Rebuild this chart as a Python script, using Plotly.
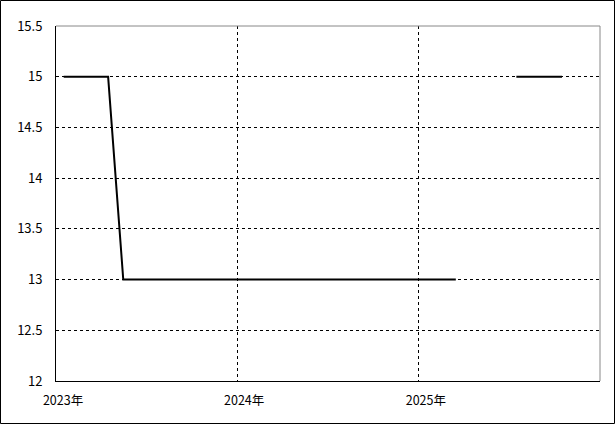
import plotly.graph_objects as go
import pandas as pd

months = pd.date_range("2023-01-01", "2025-12-01", freq="MS").strftime("%Y-%m-%d").tolist()
values = [15, 15, 15, 15] + [13] * 23 + [None, None, None] + [15, 15, 15, 15] + [None, None]
y_ticks = [12, 12.5, 13, 13.5, 14, 14.5, 15, 15.5]
y_tick_text = ["12", "12.5", "13", "13.5", "14", "14.5", "15", "15.5"]

fig = go.Figure()
fig.add_trace(go.Scatter(
    x=months, y=values, mode="lines",
    xperiod="M1", xperiodalignment="middle",
    line=dict(color="black", width=2),
    connectgaps=False, showlegend=False, hoverinfo="skip",
))

font = dict(family="Noto Sans CJK JP, sans-serif", size=12.5, color="black")

fig.update_layout(
    width=615, height=424,
    margin=dict(l=56, r=15, t=26, b=43),
    paper_bgcolor="white", plot_bgcolor="white",
    font=font,
    xaxis=dict(
        type="date", range=["2023-01-01", "2026-01-01"],
        tick0="2023-01-01", dtick="M12", tickformat="%Y年",
        showgrid=True, gridcolor="black", gridwidth=1, griddash="3px,3px",
        showline=True, linecolor="black", linewidth=1,
        ticks="", ticklabelstandoff=8, ticklabelshift=7, zeroline=False,
        tickfont=font,
    ),
    yaxis=dict(
        range=[12, 15.5], tickvals=y_ticks, ticktext=y_tick_text,
        showgrid=True, gridcolor="black", gridwidth=1, griddash="3px,3px",
        showline=True, linecolor="black", linewidth=1,
        ticks="", ticklabelstandoff=10, zeroline=False,
        tickfont=dict(family="Noto Sans CJK JP, sans-serif", size=13, color="black"),
    ),
    shapes=[
        dict(type="line", xref="paper", yref="paper", x0=0, x1=1, y0=1, y1=1,
             line=dict(color="#888888", width=1)),
        dict(type="line", xref="paper", yref="paper", x0=1, x1=1, y0=0, y1=1,
             line=dict(color="#888888", width=1)),
        dict(type="rect", xref="paper", yref="paper",
             x0=(0.5 - 56) / 544, x1=(614.5 - 56) / 544,
             y0=(381 - 423.5) / 355, y1=(381 - 0.5) / 355,
             line=dict(color="black", width=1)),
    ],
)

fig.write_html(
    "out.html",
    config={"displayModeBar": False, "staticPlot": True},
    post_script="document.body.style.margin='0';document.body.style.overflow='hidden';",
)
